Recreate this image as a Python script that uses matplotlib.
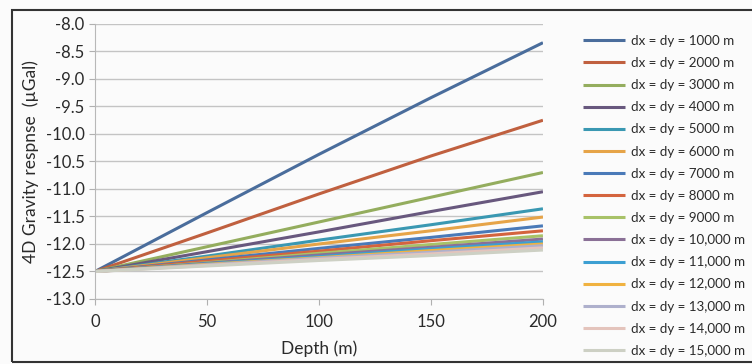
import matplotlib.pyplot as plt
from matplotlib.patches import Rectangle

plt.rcParams["font.family"] = ["Lato", "DejaVu Sans"]

# depth (m)
depth = [0, 50, 100, 150, 200]

# gravity response (uGal) per grid spacing
g1000 = [-12.5, -11.43, -10.37, -9.34, -8.34]
g2000 = [-12.5, -11.80, -11.09, -10.40, -9.75]
g3000 = [-12.5, -12.05, -11.60, -11.15, -10.70]
g4000 = [-12.5, -12.14, -11.78, -11.41, -11.05]
g5000 = [-12.5, -12.22, -11.93, -11.65, -11.36]
g6000 = [-12.5, -12.25, -12.00, -11.76, -11.51]
g7000 = [-12.5, -12.29, -12.08, -11.88, -11.67]
g8000 = [-12.5, -12.31, -12.13, -11.94, -11.76]
g9000 = [-12.5, -12.34, -12.17, -12.01, -11.85]
g10000 = [-12.5, -12.35, -12.20, -12.06, -11.91]
g11000 = [-12.5, -12.36, -12.23, -12.09, -11.96]
g12000 = [-12.5, -12.37, -12.25, -12.12, -12.00]
g13000 = [-12.5, -12.38, -12.26, -12.15, -12.03]
g14000 = [-12.5, -12.39, -12.28, -12.18, -12.07]
g15000 = [-12.5, -12.40, -12.30, -12.21, -12.11]

series = [g1000, g2000, g3000, g4000, g5000, g6000, g7000, g8000,
          g9000, g10000, g11000, g12000, g13000, g14000, g15000]
labels = ["dx = dy = 1000 m", "dx = dy = 2000 m", "dx = dy = 3000 m",
          "dx = dy = 4000 m", "dx = dy = 5000 m", "dx = dy = 6000 m",
          "dx = dy = 7000 m", "dx = dy = 8000 m", "dx = dy = 9000 m",
          "dx = dy = 10,000 m", "dx = dy = 11,000 m", "dx = dy = 12,000 m",
          "dx = dy = 13,000 m", "dx = dy = 14,000 m", "dx = dy = 15,000 m"]
colors = ["#4a6d9c", "#c0603f", "#94ad5e", "#68587e", "#3a98b2", "#e6a448",
          "#4a7ab8", "#d4643e", "#a8c268", "#8a7096", "#3c9fd2", "#f0b240",
          "#aeb0cc", "#e4c4bc", "#cdd0c4"]

fig = plt.figure(figsize=(7.52, 3.64), dpi=100)
fig.patch.set_facecolor("#fbfbfb")
ax = fig.add_axes([0.1263, 0.1786, 0.5957, 0.7555])
ax.set_facecolor("#fbfbfb")

for s, lab, c in zip(series, labels, colors):
    ax.plot(depth, s, color=c, lw=2.2, label=lab, solid_capstyle="butt")

ax.set_xlim(0, 200)
ax.set_ylim(-13, -8)
ax.set_xticks([0, 50, 100, 150, 200])
ax.set_yticks([-13 + 0.5 * i for i in range(11)])
ax.set_yticklabels(["%.1f" % (-13 + 0.5 * i) for i in range(11)])
ax.grid(axis="y", color="#c4c4c4", lw=1)
ax.set_axisbelow(True)

for side in ["top", "right"]:
    ax.spines[side].set_visible(False)
for side in ["left", "bottom"]:
    ax.spines[side].set_color("#b8b8b8")
ax.tick_params(colors="#b0b0b0", labelcolor="#2a2a2a", labelsize=12, length=4)
ax.tick_params(axis="x", pad=7)

ax.set_xlabel("Depth (m)", fontsize=12.5, color="#2a2a2a", labelpad=7)
ax.set_ylabel("4D Gravity respnse  (\u00b5Gal)", fontsize=12.5, color="#2a2a2a", labelpad=5)

ax.legend(loc="upper left", bbox_to_anchor=(0.775, 0.904), bbox_transform=fig.transFigure,
          frameon=False, fontsize=9.6, handlelength=3.2, handletextpad=0.4,
          labelspacing=0.76, borderaxespad=0, borderpad=0, labelcolor="#2a2a2a")

fig.patches.append(Rectangle((0.016, 0.005), 1.2, 0.967, transform=fig.transFigure,
                             fill=False, edgecolor="#333333", lw=1.5))

plt.savefig("out.png", dpi=100)
